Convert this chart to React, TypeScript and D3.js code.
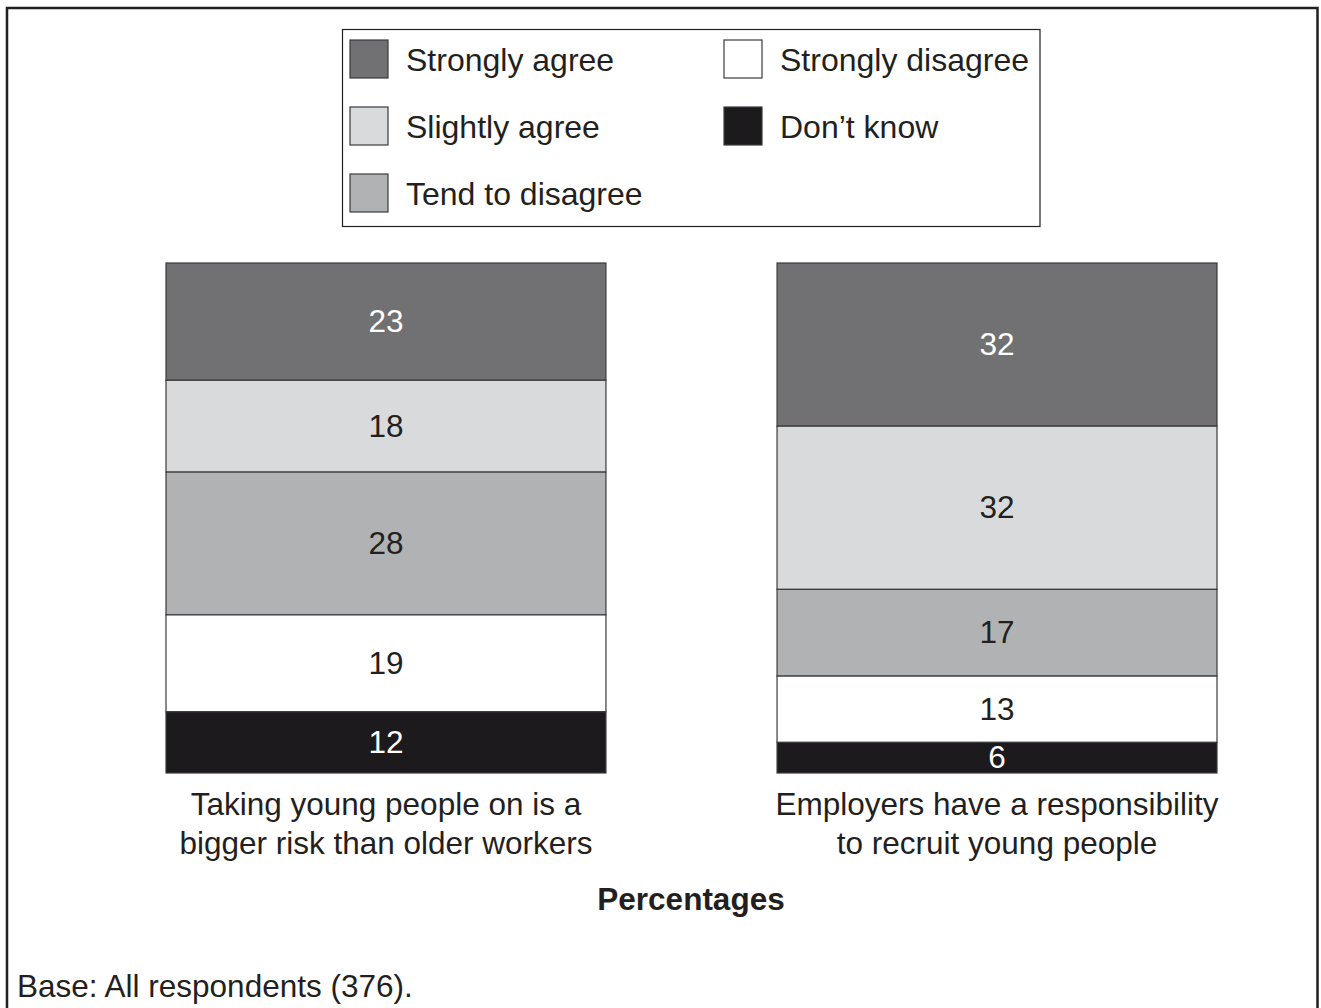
import React from "react";
import * as d3 from "d3";

const categories = ["Strongly agree", "Slightly agree", "Tend to disagree", "Strongly disagree", "Don’t know"];
const colors = ["#717173", "#d9dadb", "#b1b2b3", "#ffffff", "#1c1a1d"];
const labelColors = ["#ffffff", "#231f20", "#231f20", "#231f20", "#ffffff"];
const statements = ["risk", "responsibility"];
const statementLines = [
  ["Taking young people on is a", "bigger risk than older workers"],
  ["Employers have a responsibility", "to recruit young people"],
];
const riskValues = [23, 18, 28, 19, 12];
const responsibilityValues = [32, 32, 17, 13, 6];
const seriesValues = [riskValues, responsibilityValues];

const W = 1321;
const H = 1008;
const FONT = "'Liberation Sans', Arial, Helvetica, sans-serif";
const TEXT = "#231f20";

export default function App() {
  const x = d3.scaleBand<string>().domain(statements).range([166, 1217]).paddingInner(0.28).paddingOuter(0);
  const y = d3.scaleLinear().domain([0, 100]).range([263, 773]);

  const stacks = seriesValues.map((vals) => {
    let acc = 0;
    return vals.map((v) => {
      const s = acc;
      acc += v;
      return { v, y0: s, y1: acc };
    });
  });

  const legendItems = categories.map((c, i) => {
    const col = i < 3 ? 0 : 1;
    const row = i < 3 ? i : i - 3;
    return { c, i, col, row };
  });
  const swatchX = [350, 724];
  const rowY = [40, 107, 174];

  return (
    <div style={{ position: "absolute", left: 0, top: 0 }}>
      <svg width={W} height={H} style={{ display: "block", fontFamily: FONT }}>
        <rect x={0} y={0} width={W} height={H} fill="#fff" />
        <path d={`M7,${H + 5} L7,8 L1317.5,8 L1317.5,${H + 5}`} fill="none" stroke={TEXT} strokeWidth={2.5} />

        <rect x={342.5} y={29.5} width={697.5} height={197} fill="#fff" stroke={TEXT} strokeWidth={1.2} />
        {legendItems.map((d) => (
          <g key={d.c}>
            <rect
              x={swatchX[d.col]}
              y={rowY[d.row]}
              width={38}
              height={38}
              fill={colors[d.i]}
              stroke="#3a3a3c"
              strokeWidth={1.2}
            />
            <text x={swatchX[d.col] + 56} y={rowY[d.row] + 31} fontSize={32} fill={TEXT}>
              {d.c}
            </text>
          </g>
        ))}

        {statements.map((s, si) => {
          const bx = x(s) as number;
          const bw = x.bandwidth();
          return (
            <g key={s}>
              {stacks[si].map((seg, k) => (
                <g key={k}>
                  <rect
                    x={bx}
                    y={y(seg.y0)}
                    width={bw}
                    height={y(seg.y1) - y(seg.y0)}
                    fill={colors[k]}
                    stroke="#3a3a3c"
                    strokeWidth={1.2}
                  />
                  <text
                    x={bx + bw / 2}
                    y={(y(seg.y0) + y(seg.y1)) / 2}
                    dy="0.33em"
                    textAnchor="middle"
                    fontSize={31.5}
                    fill={labelColors[k]}
                  >
                    {seg.v}
                  </text>
                </g>
              ))}
              {statementLines[si].map((line, li) => (
                <text key={li} x={bx + bw / 2} y={815 + li * 38.5} textAnchor="middle" fontSize={31.5} fill={TEXT}>
                  {line}
                </text>
              ))}
            </g>
          );
        })}

        <text x={691} y={910} textAnchor="middle" fontSize={31.5} fontWeight="bold" fill={TEXT}>
          Percentages
        </text>
        <text x={17} y={997} fontSize={31.5} fill={TEXT}>
          Base: All respondents (376).
        </text>
      </svg>
    </div>
  );
}
